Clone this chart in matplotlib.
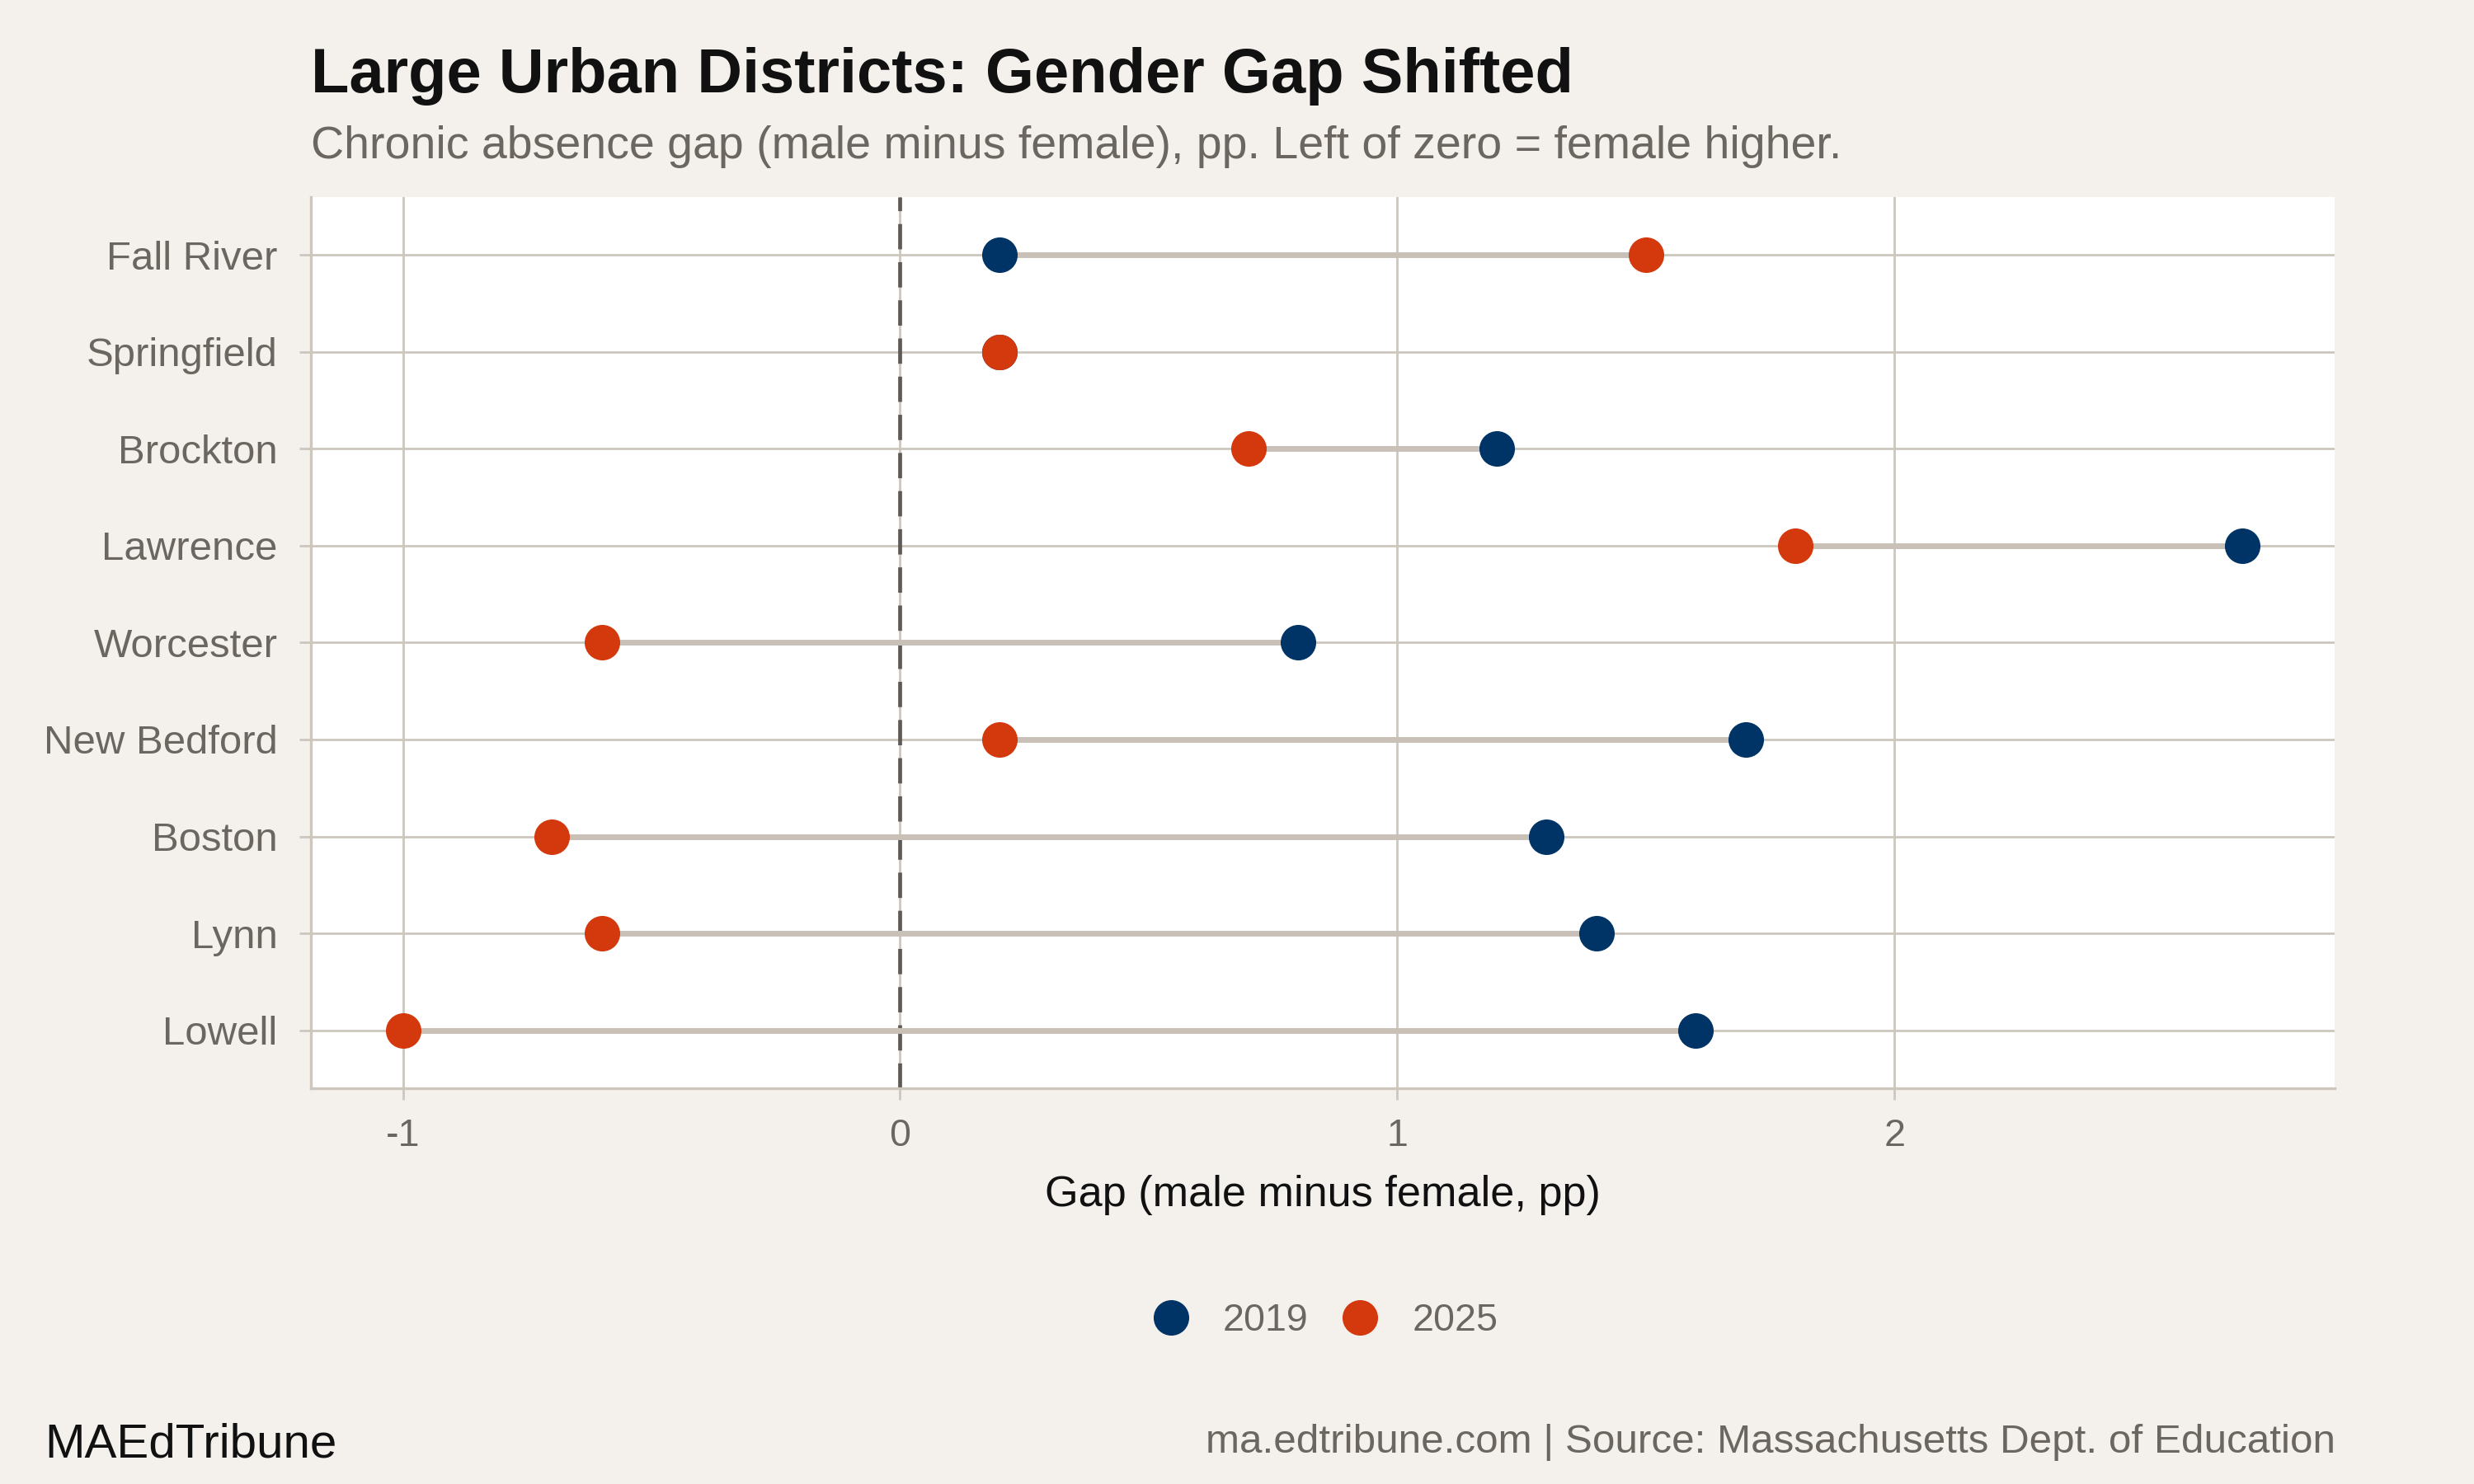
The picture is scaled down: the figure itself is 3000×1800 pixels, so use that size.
import matplotlib
matplotlib.use("Agg")
import matplotlib.pyplot as plt
from matplotlib.lines import Line2D

plt.rcParams['font.family'] = ['Liberation Sans', 'DejaVu Sans']

# data
districts = ['Fall River', 'Springfield', 'Brockton', 'Lawrence', 'Worcester',
             'New Bedford', 'Boston', 'Lynn', 'Lowell']
gap_2019 = [0.2, 0.2, 1.2, 2.7, 0.8, 1.7, 1.3, 1.4, 1.6]
gap_2025 = [1.5, 0.2, 0.7, 1.8, -0.6, 0.2, -0.7, -0.6, -1.0]
x_ticks = [-1, 0, 1, 2]

bg = '#F4F1EC'
grid_col = '#CCC6BD'
navy = '#003366'
orange = '#D4380D'
gray_txt = '#6B6660'

fig = plt.figure(figsize=(15, 9), dpi=200, facecolor=bg)
ax = fig.add_axes([377/3000, 1 - 1320/1800, (2831 - 377)/3000, (1320 - 239)/1800])
ax.set_facecolor('white')

# first district on top
ypos = list(range(len(districts), 0, -1))

ax.axvline(0, color='#5F5A55', lw=1.7, linestyle=(0, (6.5, 3.3)), zorder=2)

for y, a, b in zip(ypos, gap_2019, gap_2025):
    ax.plot([a, b], [y, y], color='#C9C1B8', lw=2.5, solid_capstyle='butt', zorder=3)

ax.plot(gap_2019, ypos, 'o', color=navy, ms=15.5, mew=0, zorder=4)
ax.plot(gap_2025, ypos, 'o', color=orange, ms=15.5, mew=0, zorder=5)

ax.set_xlim(-1.185, 2.885)
ax.set_ylim(0.4, len(districts) + 0.6)
ax.set_xticks(x_ticks)
ax.set_xticklabels([str(t) for t in x_ticks])
ax.set_yticks(ypos)
ax.set_yticklabels(districts)

ax.grid(True, color=grid_col, lw=1.0, zorder=1)
ax.set_axisbelow(True)
for s in ['top', 'right']:
    ax.spines[s].set_visible(False)
for s in ['left', 'bottom']:
    ax.spines[s].set_color(grid_col)
    ax.spines[s].set_linewidth(1.2)

ax.tick_params(axis='both', colors=grid_col, labelcolor=gray_txt, labelsize=16.8,
               length=5, width=1.0)
ax.tick_params(axis='y', pad=9.5, labelsize=17.7)
ax.tick_params(axis='x', pad=8)

ax.set_xlabel('Gap (male minus female, pp)', fontsize=18.8, color='#111111', labelpad=9)

fig.text(377/3000, 1 - 112/1800, 'Large Urban Districts: Gender Gap Shifted',
         fontsize=27.3, fontweight='bold', color='#111111', va='baseline', ha='left')
fig.text(377/3000, 1 - 192/1800,
         'Chronic absence gap (male minus female), pp. Left of zero = female higher.',
         fontsize=20, color=gray_txt, va='baseline', ha='left')

handles = [Line2D([], [], marker='o', ls='none', color=navy, ms=15.5, mew=0),
           Line2D([], [], marker='o', ls='none', color=orange, ms=15.5, mew=0)]
fig.legend(handles, ['2019', '2025'], loc='center', bbox_to_anchor=(0.5347, 1 - 1602/1800),
           ncol=2, frameon=False, fontsize=16.8, labelcolor=gray_txt,
           handletextpad=0.75, columnspacing=0.75, handlelength=1.2)

fig.text(54/3000, 1 - 1767/1800, 'MAEdTribune', fontsize=21, color='#111111',
         va='baseline', ha='left')
fig.text(2832/3000, 1 - 1762/1800,
         'ma.edtribune.com | Source: Massachusetts Dept. of Education',
         fontsize=17.8, color=gray_txt, va='baseline', ha='right')

fig.savefig('out.png', dpi=200, facecolor=bg)
